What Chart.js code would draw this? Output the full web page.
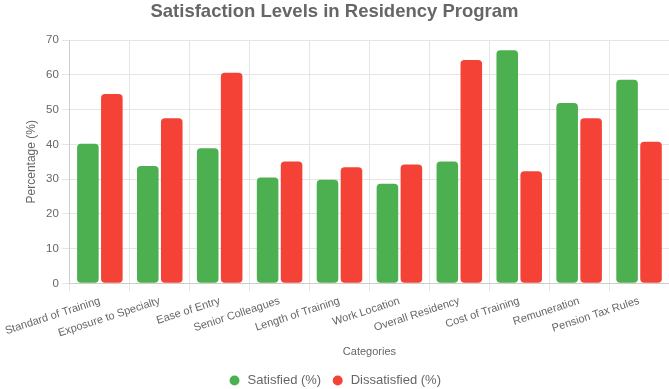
<!DOCTYPE html>
<html>
<head>
<meta charset="utf-8">
<script src="https://cdn.jsdelivr.net/npm/chart.js"></script>
<style>
html,body{margin:0;padding:0;background:#fff;}
#wrap{width:669px;height:389px;}
</style>
</head>
<body>
<div id="wrap"><canvas id="c"></canvas></div>
<script>
const categories = ["Standard of Training","Exposure to Specialty","Ease of Entry","Senior Colleagues","Length of Training","Work Location","Overall Residency","Cost of Training","Remuneration","Pension Tax Rules"];
const satisfied = [40.2, 33.8, 38.9, 30.5, 29.8, 28.7, 35.1, 67.1, 51.9, 58.6];
const dissatisfied = [54.5, 47.5, 60.6, 35.1, 33.4, 34.2, 64.3, 32.3, 47.5, 40.8];
const yTicks = [0,10,20,30,40,50,60,70];

Chart.defaults.font.family = "'Liberation Sans', Arial, sans-serif";
Chart.defaults.color = '#666';
new Chart(document.getElementById('c'), {
  type: 'bar',
  data: {
    labels: categories,
    datasets: [
      {label: 'Satisfied (%)', data: satisfied, backgroundColor: '#4CAF50', borderRadius: 4, borderSkipped: false},
      {label: 'Dissatisfied (%)', data: dissatisfied, backgroundColor: '#F44336', borderRadius: 4, borderSkipped: false}
    ]
  },
  options: {
    responsive: true,
    maintainAspectRatio: false,
    animation: false,
    layout: {padding: {bottom: -8}},
    plugins: {
      title: {display: true, text: 'Satisfaction Levels in Residency Program', font: {size: 18.5, weight: 'bold'}, color: '#666', padding: {top: 1, bottom: 17}},
      legend: {position: 'bottom', labels: {usePointStyle: true, pointStyle: 'circle', boxWidth: 13, boxHeight: 7, padding: 10, font: {size: 13}}}
    },
    scales: {
      x: {
        title: {display: true, text: 'Categories', font: {size: 11}, padding: {top: 3, bottom: 5}},
        ticks: {font: {size: 11}, maxRotation: 18, minRotation: 18, autoSkip: false},
        grid: {color: '#e5e5e5'}
      },
      y: {
        min: 0, max: 70,
        title: {display: true, text: 'Percentage (%)', font: {size: 12}},
        afterBuildTicks: (axis) => { axis.ticks = yTicks.map(v => ({value: v})); },
        ticks: {font: {size: 11.5}},
        grid: {color: '#e5e5e5'}
      }
    }
  }
});
</script>
</body>
</html>
